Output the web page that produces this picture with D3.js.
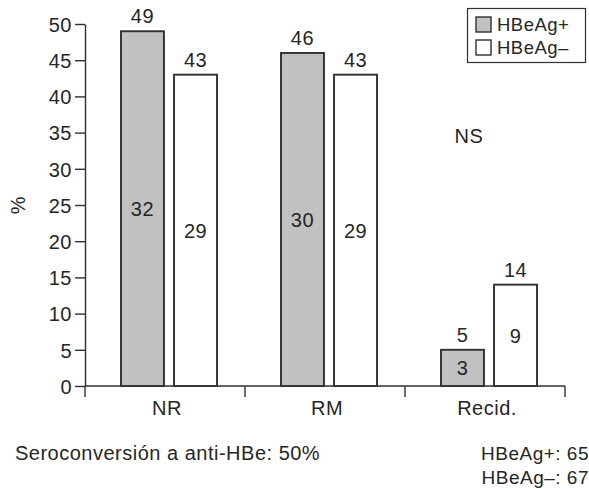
<!DOCTYPE html>
<html>
<head>
<meta charset="utf-8">
<script src="https://cdn.jsdelivr.net/npm/d3@7"></script>
<style>
  html, body { margin: 0; padding: 0; background: #fff; }
  svg { display: block; }
  text { font-family: "Liberation Sans", Arial, Helvetica, sans-serif; fill: #262626; letter-spacing: 0.5px; }
</style>
</head>
<body>
<svg id="chart" width="589" height="489"></svg>
<script>
// Response categories and series
const categories = ["NR", "RM", "Recid."];
const seriesNames = ["HBeAg+", "HBeAg–"];
// Percentages per category (shown above each bar)
const posValues = [49, 46, 5];
const negValues = [43, 43, 14];
// Patient counts (shown inside each bar)
const posCounts = [32, 30, 3];
const negCounts = [29, 29, 9];
// Y axis ticks
const yTicks = [0, 5, 10, 15, 20, 25, 30, 35, 40, 45, 50];
// Footer notes
const footLeft = "Seroconversión a anti-HBe: 50%";
const footRight = ["HBeAg+: 65", "HBeAg–: 67"];
const noteNS = "NS";

const fills = ["#c1c1c1", "#ffffff"];
const ink = "#303030";
const fontSize = 20;

const svg = d3.select("#chart");

const x0 = d3.scaleBand().domain(categories).range([85, 565]).padding(0);
const x1 = d3.scaleBand().domain(seriesNames).range([36, 132]).paddingInner(0.19).paddingOuter(0);
const y = d3.scaleLinear().domain([0, 50]).range([386, 24]);

const rows = categories.map((c, i) => ({
  cat: c,
  bars: [
    { key: seriesNames[0], value: posValues[i], count: posCounts[i] },
    { key: seriesNames[1], value: negValues[i], count: negCounts[i] }
  ]
}));

// Y axis
const yAxis = svg.append("g")
  .attr("transform", "translate(85,0)")
  .call(d3.axisLeft(y).tickValues(yTicks).tickSize(10).tickSizeOuter(0).tickPadding(3));
yAxis.selectAll("path, line").attr("stroke", ink).attr("stroke-width", 1.4);
yAxis.selectAll("text")
  .style("font-size", fontSize + "px")
  .style("font-family", "'Liberation Sans', Arial, sans-serif")
  .attr("fill", "#262626")
  .attr("dy", "0.36em");

// Y title
svg.append("text")
  .attr("transform", `translate(25,${y(25)}) rotate(-90)`)
  .attr("text-anchor", "middle")
  .style("font-size", fontSize + "px")
  .text("%");

// X axis baseline with category boundary ticks
const xAxis = svg.append("g");
xAxis.append("line")
  .attr("x1", x0.range()[0]).attr("x2", x0.range()[1])
  .attr("y1", y(0)).attr("y2", y(0))
  .attr("stroke", ink).attr("stroke-width", 1.4);
const bounds = categories.map(c => x0(c)).concat([x0.range()[1]]);
xAxis.selectAll("line.bound").data(bounds).join("line")
  .attr("class", "bound")
  .attr("x1", d => d).attr("x2", d => d)
  .attr("y1", y(0)).attr("y2", y(0) + 11)
  .attr("stroke", ink).attr("stroke-width", 1.4);
xAxis.selectAll("text.cat").data(categories).join("text")
  .attr("class", "cat")
  .attr("x", d => x0(d) + x0.bandwidth() / 2 + 2)
  .attr("y", y(0) + 29)
  .attr("text-anchor", "middle")
  .style("font-size", fontSize + "px")
  .text(d => d);

// Bars
const groups = svg.selectAll("g.grp").data(rows).join("g")
  .attr("class", "grp")
  .attr("transform", d => `translate(${x0(d.cat)},0)`);

groups.selectAll("rect").data(d => d.bars).join("rect")
  .attr("x", d => x1(d.key))
  .attr("y", d => y(d.value))
  .attr("width", x1.bandwidth())
  .attr("height", d => y(0) - y(d.value))
  .attr("fill", (d, i) => fills[i])
  .attr("stroke", ink)
  .attr("stroke-width", 1.9);

// Percentage above each bar
groups.selectAll("text.val").data(d => d.bars).join("text")
  .attr("class", "val")
  .attr("x", d => x1(d.key) + x1.bandwidth() / 2)
  .attr("y", d => y(d.value) - 8)
  .attr("text-anchor", "middle")
  .style("font-size", fontSize + "px")
  .text(d => d.value);

// Count inside each bar
groups.selectAll("text.cnt").data(d => d.bars).join("text")
  .attr("class", "cnt")
  .attr("x", d => x1(d.key) + x1.bandwidth() / 2)
  .attr("y", d => y(d.value / 2))
  .attr("dy", "0.36em")
  .attr("text-anchor", "middle")
  .style("font-size", fontSize + "px")
  .text(d => d.count);

// Significance note
svg.append("text")
  .attr("x", 469).attr("y", 143)
  .attr("text-anchor", "middle")
  .style("font-size", fontSize + "px")
  .text(noteNS);

// Legend
const legend = svg.append("g");
legend.append("rect")
  .attr("x", 467.5).attr("y", 8.5).attr("width", 118).attr("height", 54)
  .attr("fill", "#fff").attr("stroke", ink).attr("stroke-width", 1.2);
const li = legend.selectAll("g.item").data(seriesNames).join("g")
  .attr("class", "item")
  .attr("transform", (d, i) => `translate(476,${17 + i * 23})`);
li.append("rect")
  .attr("width", 15).attr("height", 15)
  .attr("fill", (d, i) => fills[i])
  .attr("stroke", ink).attr("stroke-width", 1.4);
li.append("text")
  .attr("x", 21).attr("y", 14)
  .style("font-size", "18.5px")
  .text(d => d);

// Footer
svg.append("text")
  .attr("x", 15).attr("y", 460)
  .style("font-size", fontSize + "px")
  .text(footLeft);
svg.selectAll("text.fr").data(footRight).join("text")
  .attr("class", "fr")
  .attr("x", 589).attr("y", (d, i) => 460 + i * 24)
  .attr("text-anchor", "end")
  .style("font-size", "19px")
  .text(d => d);
</script>
</body>
</html>
